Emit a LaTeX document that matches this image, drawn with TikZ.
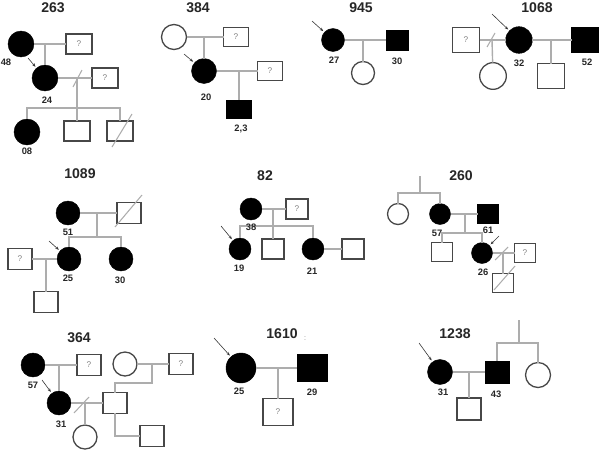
\documentclass[tikz,border=0pt]{standalone}
\usepackage{fontspec}
\setmainfont{Liberation Sans}
\usetikzlibrary{arrows.meta}

\definecolor{linec}{gray}{0.68}
\definecolor{outl}{gray}{0.28}
\definecolor{labc}{gray}{0.15}

\tikzset{
  every node/.style={inner sep=0pt,outer sep=0pt},
  circ/.style={circle,minimum size=0.72cm},
  box/.style={rectangle,minimum width=0.72cm,minimum height=0.6cm},
  fem/.style={circ,draw=outl,line width=1.1pt,fill=white},
  affF/.style={circ,draw=black,fill=black},
  mal/.style={box,draw=outl,line width=1.1pt,fill=white},
  affM/.style={box,draw=black,fill=black},
  unk/.style={mal,font=\fontsize{7}{7}\selectfont,text=gray},
  rel/.style={draw=linec,line width=1.2pt},
  cut/.style={draw=linec,line width=0.9pt},
  ttl/.style={font=\bfseries\fontsize{12}{14}\selectfont,text=labc},
  age/.style={font=\bfseries\fontsize{8}{9}\selectfont,text=labc},
  prob/.style={draw=black!80,line width=0.5pt,-{Stealth[length=3pt,width=2.4pt]},shorten >=1.5pt}
}

\begin{document}
\begin{tikzpicture}[x=0.03cm,y=-0.03cm]
  \useasboundingbox (0,0) rectangle (600,449);

  % Pedigree 263
  \begin{scope}[circ/.append style={minimum size=0.78cm},box/.append style={minimum width=0.78cm,minimum height=0.6cm}]
    \node[ttl] (t263) at (53,8) {263};
    \node[affF] (p263a) at (21,44) {};
    \node[unk] (p263b) at (79,44) {?};
    \node[affF] (p263c) at (45,78) {};
    \node[unk] (p263d) at (105,78) {?};
    \node[affF] (p263e) at (27,132) {};
    \node[mal] (p263f) at (77,131) {};
    \node[mal] (p263g) at (120,131) {};
    \coordinate (m263a) at (45,44);
    \coordinate (m263b) at (77,78);
    \coordinate (s263) at (77,108);
    \coordinate (a263) at (28,58);
    \draw[rel] (p263a) -- (p263b);
    \draw[rel] (m263a) -- (p263c);
    \draw[rel] (p263c) -- (p263d);
    \draw[rel] (m263b) -- (p263f);
    \draw[rel] (p263e) |- (s263) -| (p263g);
    \draw[cut] ([shift={(-4,9)}]m263b) -- ([shift={(5,-8)}]m263b);
    \draw[cut] ([shift={(-8,16)}]p263g.center) -- ([shift={(12,-17)}]p263g.center);
    \draw[prob] (a263) -- (p263c);
    \node[age] (l263a) at (6,62) {48};
    \node[age] (l263b) at (47,100) {24};
    \node[age] (l263c) at (27,151) {08};
  \end{scope}

  % Pedigree 384
  \begin{scope}[circ/.append style={minimum size=0.75cm},box/.append style={minimum width=0.75cm,minimum height=0.55cm}]
    \node[ttl] (t384) at (198,8) {384};
    \node[fem] (p384a) at (174,37) {};
    \node[unk] (p384b) at (236,37) {?};
    \node[affF] (p384c) at (204,71) {};
    \node[unk] (p384d) at (270,71) {?};
    \node[affM] (p384e) at (239,109) {};
    \coordinate (m384a) at (204,37);
    \coordinate (m384b) at (239,71);
    \coordinate (a384) at (184,54);
    \draw[rel] (p384a) -- (p384b);
    \draw[rel] (m384a) -- (p384c);
    \draw[rel] (p384c) -- (p384d);
    \draw[rel] (m384b) -- (p384e);
    \draw[prob] (a384) -- (p384c);
    \node[age] (l384a) at (206,97) {20};
    \node[age] (l384b) at (241,129) {2,3};
  \end{scope}

  % Pedigree 945
  \begin{scope}[circ/.append style={minimum size=0.69cm},box/.append style={minimum width=0.66cm,minimum height=0.6cm}]
    \node[ttl] (t945) at (361,8) {945};
    \node[affF] (p945a) at (333,40) {};
    \node[affM] (p945b) at (397,40) {};
    \node[fem] (p945c) at (363,73) {};
    \coordinate (m945) at (363,40);
    \coordinate (a945) at (312,21);
    \draw[rel] (p945a) -- (p945b);
    \draw[rel] (m945) -- (p945c);
    \draw[prob] (a945) -- (p945a);
    \node[age] (l945a) at (334,60) {27};
    \node[age] (l945b) at (397,61) {30};
  \end{scope}

  % Pedigree 1068
  \begin{scope}[circ/.append style={minimum size=0.8cm},box/.append style={minimum width=0.81cm,minimum height=0.74cm}]
    \node[ttl] (t1068) at (537,8) {1068};
    \node[unk] (p1068a) at (466,40) {?};
    \node[affF] (p1068b) at (519,40) {};
    \node[affM] (p1068c) at (585,40) {};
    \node[fem] (p1068d) at (493,76) {};
    \node[mal] (p1068e) at (551,76) {};
    \coordinate (m1068a) at (492,40);
    \coordinate (m1068b) at (551,40);
    \coordinate (a1068) at (492,14);
    \draw[rel] (p1068a) -- (p1068b);
    \draw[rel] (p1068b) -- (p1068c);
    \draw[rel] (m1068a) -- (p1068d);
    \draw[rel] (m1068b) -- (p1068e);
    \draw[cut] ([shift={(-5,7)}]m1068a) -- ([shift={(3,-7)}]m1068a);
    \draw[prob] (a1068) -- (p1068b);
    \node[age] (l1068a) at (519,63) {32};
    \node[age] (l1068b) at (587,62) {52};
  \end{scope}

  % Pedigree 1089
  \begin{scope}[circ/.append style={minimum size=0.72cm},box/.append style={minimum width=0.72cm,minimum height=0.63cm}]
    \node[ttl] (t1089) at (80,174) {1089};
    \node[affF] (p1089a) at (68,213) {};
    \node[mal] (p1089b) at (129,213) {};
    \node[affF] (p1089c) at (69,259) {};
    \node[affF] (p1089d) at (121,259) {};
    \node[unk] (p1089e) at (20,259) {?};
    \node[mal] (p1089f) at (46,302) {};
    \coordinate (m1089a) at (97,213);
    \coordinate (s1089) at (97,237);
    \coordinate (m1089b) at (46,259);
    \coordinate (a1089) at (49,241);
    \draw[rel] (p1089a) -- (p1089b);
    \draw[rel] (m1089a) -- (s1089);
    \draw[rel] (p1089c) |- (s1089) -| (p1089d);
    \draw[rel] (p1089e) -- (p1089c);
    \draw[rel] (m1089b) -- (p1089f);
    \draw[cut] ([shift={(-14,14)}]p1089b.center) -- ([shift={(13,-18)}]p1089b.center);
    \draw[prob] (a1089) -- (p1089c);
    \node[age] (l1089a) at (68,232) {51};
    \node[age] (l1089b) at (68,278) {25};
    \node[age] (l1089c) at (120,280) {30};
  \end{scope}

  % Pedigree 82
  \begin{scope}[circ/.append style={minimum size=0.66cm},box/.append style={minimum width=0.66cm,minimum height=0.6cm}]
    \node[ttl] (t82) at (265,176) {82};
    \node[affF] (p82a) at (251,209) {};
    \node[unk] (p82b) at (297,209) {?};
    \node[affF] (p82c) at (240,249) {};
    \node[mal] (p82d) at (273,249) {};
    \node[affF] (p82e) at (313,249) {};
    \node[mal] (p82f) at (353,249) {};
    \coordinate (m82) at (273,209);
    \coordinate (s82) at (273,226);
    \coordinate (a82) at (221,226);
    \draw[rel] (p82a) -- (p82b);
    \draw[rel] (m82) -- (p82d);
    \draw[rel] (p82c) |- (s82) -| (p82e);
    \draw[rel] (p82e) -- (p82f);
    \draw[prob] (a82) -- (p82c);
    \node[age] (l82a) at (251,227) {38};
    \node[age] (l82b) at (239,268) {19};
    \node[age] (l82c) at (312,271) {21};
  \end{scope}

  % Pedigree 260
  \begin{scope}[circ/.append style={minimum size=0.63cm},box/.append style={minimum width=0.63cm,minimum height=0.57cm}]
    \node[ttl] (t260) at (461,176) {260};
    \node[fem] (p260a) at (398,214) {};
    \node[affF] (p260b) at (440,214) {};
    \node[affM] (p260c) at (488,214) {};
    \node[mal] (p260d) at (442,252) {};
    \node[affF] (p260e) at (482,253) {};
    \node[unk] (p260f) at (525,253) {?};
    \node[mal] (p260g) at (503,283) {};
    \coordinate (g260) at (420,176);
    \coordinate (s260a) at (420,193);
    \coordinate (m260a) at (465,214);
    \coordinate (s260b) at (465,233);
    \coordinate (m260b) at (503,253);
    \coordinate (a260) at (499,236);
    \draw[rel] (g260) -- (s260a);
    \draw[rel] (p260a) |- (s260a) -| (p260b);
    \draw[rel] (p260b) -- (p260c);
    \draw[rel] (m260a) -- (s260b);
    \draw[rel] (p260d) |- (s260b) -| (p260e);
    \draw[rel] (p260e) -- (p260f);
    \draw[rel] (m260b) -- (p260g);
    \draw[cut] ([shift={(-8,7)}]m260b) -- ([shift={(5,-6)}]m260b);
    \draw[cut] ([shift={(-9,7)}]p260g.center) -- ([shift={(12,-17)}]p260g.center);
    \draw[prob] (a260) -- (p260e);
    \node[age] (l260a) at (437,233) {57};
    \node[age] (l260b) at (488,230) {61};
    \node[age] (l260c) at (483,272) {26};
  \end{scope}

  % Pedigree 364
  \begin{scope}[circ/.append style={minimum size=0.72cm},box/.append style={minimum width=0.72cm,minimum height=0.62cm}]
    \node[ttl] (t364) at (79,338) {364};
    \node[affF] (p364a) at (33,365) {};
    \node[unk] (p364b) at (89,365) {?};
    \node[affF] (p364c) at (59,403) {};
    \node[fem] (p364d) at (125,364) {};
    \node[unk] (p364e) at (181,364) {?};
    \node[mal] (p364f) at (115,403) {};
    \node[fem] (p364g) at (85,437) {};
    \node[mal] (p364h) at (152,436) {};
    \coordinate (m364a) at (59,365);
    \coordinate (m364b) at (152,364);
    \coordinate (s364) at (152,383);
    \coordinate (m364c) at (85,403);
    \coordinate (a364) at (42,380);
    \draw[rel] (p364a) -- (p364b);
    \draw[rel] (m364a) -- (p364c);
    \draw[rel] (p364d) -- (p364e);
    \draw[rel] (m364b) -- (s364) -| (p364f);
    \draw[rel] (p364c) -- (p364f);
    \draw[rel] (m364c) -- (p364g);
    \draw[rel] (p364f) |- (p364h);
    \draw[cut] ([shift={(-11,10)}]m364c) -- ([shift={(4,-6)}]m364c);
    \draw[prob] (a364) -- (p364c);
    \node[age] (l364a) at (33,385) {57};
    \node[age] (l364b) at (61,424) {31};
  \end{scope}

  % Pedigree 1610
  \begin{scope}[circ/.append style={minimum size=0.9cm},box/.append style={minimum width=0.9cm,minimum height=0.8cm}]
    \node[ttl] (t1610) at (282,334) {1610};
    \node[age,text=gray,font=\fontsize{6}{6}\selectfont] (c1610) at (305,339) {:};
    \node[affF] (p1610a) at (241,368) {};
    \node[affM] (p1610b) at (312,368) {};
    \node[unk] (p1610c) at (278,412) {?};
    \coordinate (m1610) at (278,368);
    \coordinate (a1610) at (214,338);
    \draw[rel] (p1610a) -- (p1610b);
    \draw[rel] (m1610) -- (p1610c);
    \draw[prob] (a1610) -- (p1610a);
    \node[age] (l1610a) at (239,391) {25};
    \node[age] (l1610b) at (312,392) {29};
  \end{scope}

  % Pedigree 1238
  \begin{scope}[circ/.append style={minimum size=0.75cm},box/.append style={minimum width=0.72cm,minimum height=0.66cm}]
    \node[ttl] (t1238) at (455,334) {1238};
    \node[affF] (p1238a) at (440,372) {};
    \node[affM] (p1238b) at (497,372) {};
    \node[mal] (p1238c) at (469,409) {};
    \node[fem] (p1238d) at (538,375) {};
    \coordinate (g1238) at (519,320);
    \coordinate (s1238) at (519,343);
    \coordinate (m1238) at (469,372);
    \coordinate (a1238) at (419,343);
    \draw[rel] (g1238) -- (s1238);
    \draw[rel] (p1238b) |- (s1238) -| (p1238d);
    \draw[rel] (p1238a) -- (p1238b);
    \draw[rel] (m1238) -- (p1238c);
    \draw[prob] (a1238) -- (p1238a);
    \node[age] (l1238a) at (443,392) {31};
    \node[age] (l1238b) at (496,394) {43};
  \end{scope}
\end{tikzpicture}
\end{document}
